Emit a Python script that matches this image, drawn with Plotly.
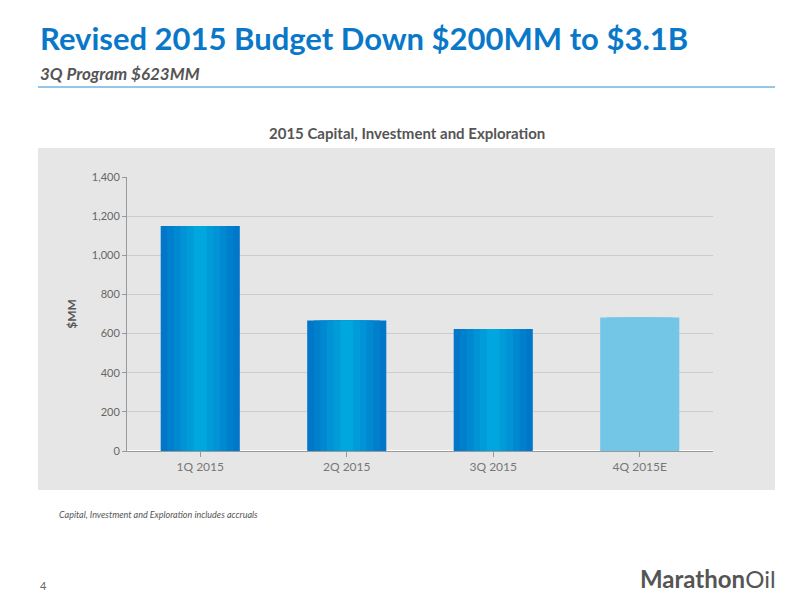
import plotly.graph_objects as go

categories = ["1Q 2015", "2Q 2015", "3Q 2015", "4Q 2015E"]
values = [1150, 667, 623, 682]
yticks = [0, 200, 400, 600, 800, 1000, 1200, 1400]

W, H = 800, 600
OFF = 8  # page body margin offset
L, R, T, B = 127, 713, 177, 451  # plot area in screen pixels
PW, PH = R - L, B - T
fx = lambda x: (x - L) / PW
fy = lambda y: (B - y) / PH

fig = go.Figure()
widths = [0.54, 0.45, 0.36, 0.27, 0.18, 0.09]
dark = (0, 119, 200); light = (0, 166, 222)
for i, w in enumerate(widths):
    t = i / (len(widths) - 1)
    c = tuple(int(dark[k] + (light[k] - dark[k]) * t) for k in range(3))
    cols = [f"rgb{c}"] * 3 + ["#74c6e6"]
    fig.add_bar(x=categories, y=values, width=w, marker=dict(color=cols, line_width=0),
                hoverinfo="skip" if i else None, showlegend=False)

fig.add_shape(type="rect", xref="paper", yref="paper", x0=fx(38), x1=fx(775),
              y0=fy(490), y1=fy(148), fillcolor="#e6e6e6", line_width=0, layer="below")
fig.add_shape(type="line", xref="paper", yref="paper", x0=fx(38), x1=fx(775),
              y0=fy(87), y1=fy(87), line=dict(color="#2a8fd0", width=1))

fig.update_layout(
    width=W, height=H, barmode="overlay", plot_bgcolor="rgba(0,0,0,0)", paper_bgcolor="white",
    margin=dict(l=L - OFF, r=W - R + OFF, t=T - OFF, b=H - B + OFF),
    font=dict(family="Lato, Open Sans, sans-serif", color="#666"),
    xaxis=dict(showline=True, linecolor="#999", ticks="outside", tickcolor="#999", ticklen=5,
               tickfont=dict(size=12, color="#777")),
    yaxis=dict(range=[0, 1400], tickvals=yticks, tickformat=",", showline=True, linecolor="#999",
               ticks="outside", tickcolor="#999", ticklen=4, gridcolor="#cccccc",
               tickfont=dict(size=11, color="#666"),
               title=dict(text="<b>$MM</b>", font=dict(size=12, color="#555"), standoff=12)),
)
ann = [
    (38, 38, "<b>Revised 2015 Budget Down $200MM to $3.1B</b>", "left",
     dict(size=31, color="#0a78c8", family="Lato, sans-serif")),
    (38, 74, "<b><i>3Q Program $623MM</i></b>", "left", dict(size=17, color="#555")),
    (407, 133, "<b>2015 Capital, Investment and Exploration</b>", "center", dict(size=15, color="#555")),
    (57, 514, "<i>Capital, Investment and Exploration includes accruals</i>", "left", dict(size=9, color="#555")),
    (38, 585, "4", "left", dict(size=11, color="#666")),
    (778, 578, "<b>Marathon</b>Oil", "right", dict(size=24, color="#555", family="Lato, sans-serif")),
]
for x, y, text, xa, font in ann:
    fig.add_annotation(x=fx(x), y=fy(y), text=text, xanchor=xa, yanchor="middle", font=font,
                       xref="paper", yref="paper", showarrow=False)
fig.write_html("out.html")
